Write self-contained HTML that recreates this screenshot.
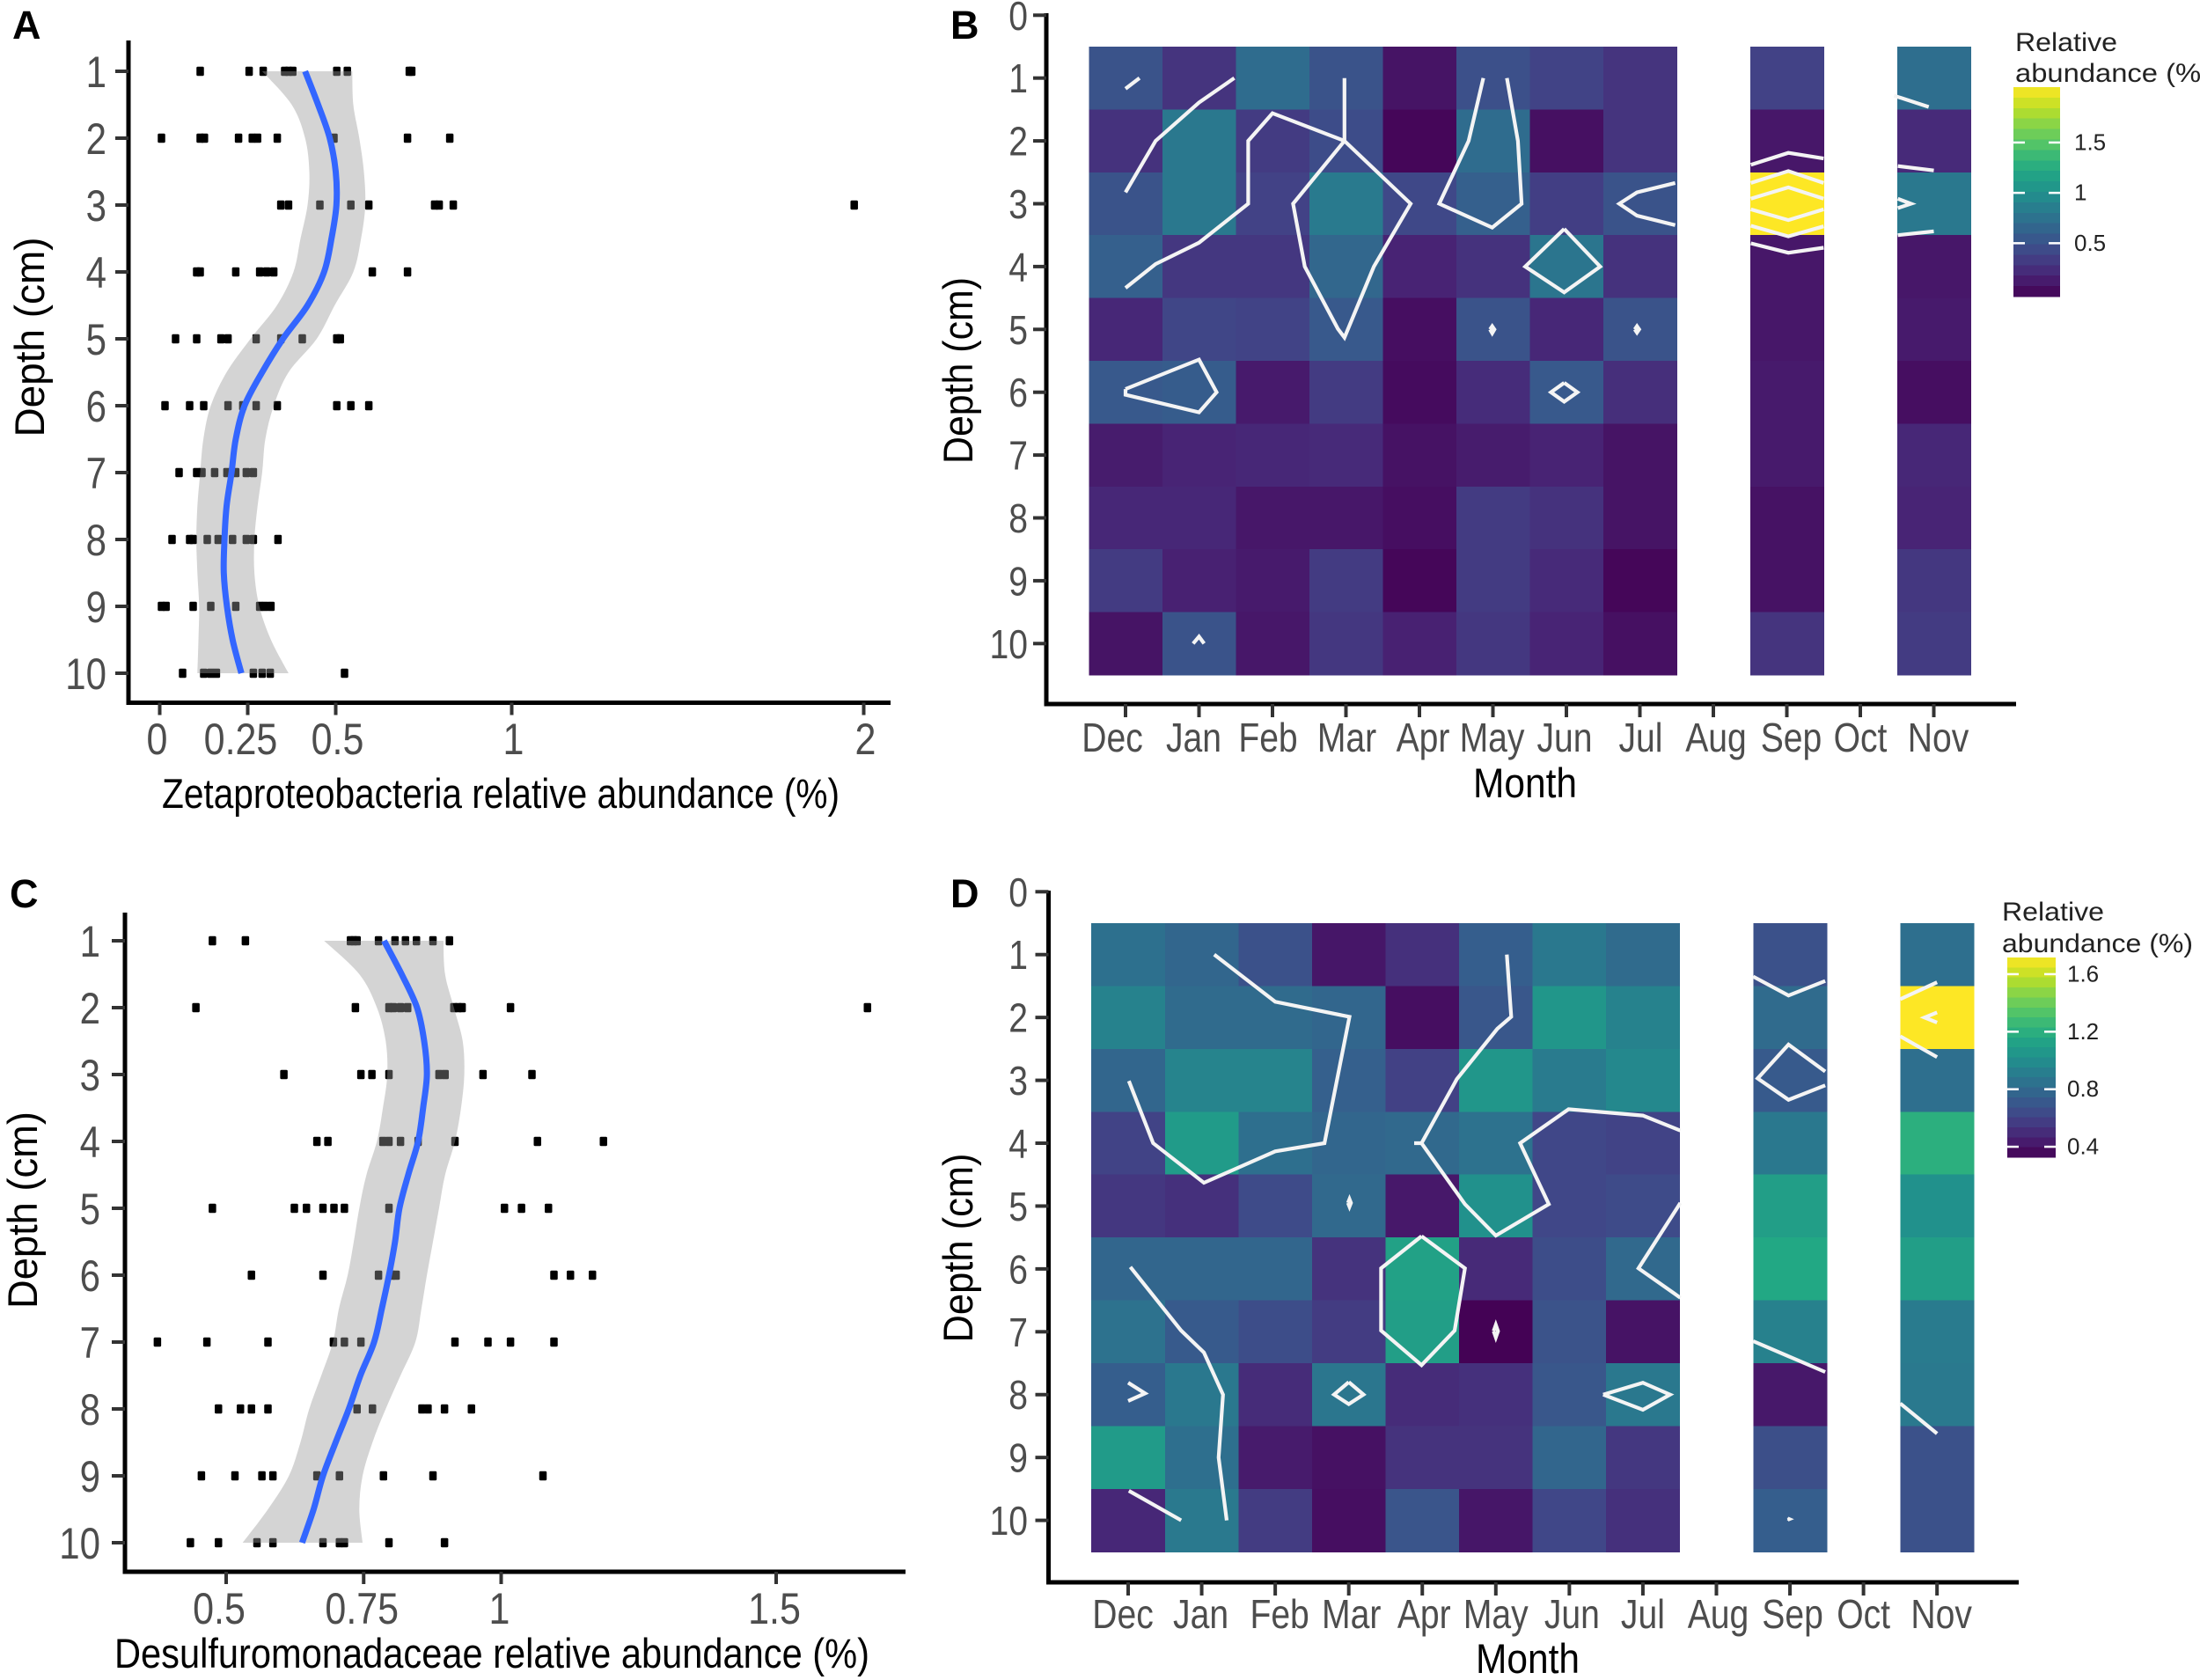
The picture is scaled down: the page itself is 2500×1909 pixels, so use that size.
<!DOCTYPE html>
<html lang="en">
<head>
<meta charset="utf-8">
<title>Depth profiles and monthly heatmaps of relative abundance</title>
<style>
html,body{margin:0;padding:0;background:#fff;}
svg{display:block;font-family:"Liberation Sans",Arial,sans-serif;}
.tick-label{fill:#4d4d4d;}
.title{fill:#000;}
</style>
</head>
<body>
<svg id="figure" xmlns="http://www.w3.org/2000/svg" width="2500" height="1909" viewBox="0 0 2500 1909">
  <rect width="2500" height="1909" fill="#fff"/>
  <text x="14" y="44" font-size="45" font-weight="bold">A</text>
  <text x="1080" y="44" font-size="45" font-weight="bold">B</text>
  <text x="11" y="1031" font-size="45" font-weight="bold">C</text>
  <text x="1080" y="1031" font-size="45" font-weight="bold">D</text>

  <g id="panel-a"></g>
  <g id="panel-b"></g>
  <g id="panel-c"></g>
  <g id="panel-d"></g>

  <text class="title" x="569" y="918" font-size="47" text-anchor="middle" textLength="770" lengthAdjust="spacingAndGlyphs">Zetaproteobacteria relative abundance (%)</text>
  <text class="title" transform="translate(50,383) rotate(-90)" font-size="47" text-anchor="middle" textLength="227" lengthAdjust="spacingAndGlyphs">Depth (cm)</text>
  <text class="title" x="559" y="1895" font-size="47" text-anchor="middle" textLength="858" lengthAdjust="spacingAndGlyphs">Desulfuromonadaceae relative abundance (%)</text>
  <text class="title" transform="translate(42,1375) rotate(-90)" font-size="47" text-anchor="middle" textLength="224" lengthAdjust="spacingAndGlyphs">Depth (cm)</text>
  <text class="title" x="1733" y="906" font-size="47" text-anchor="middle" textLength="118" lengthAdjust="spacingAndGlyphs">Month</text>
  <text class="title" transform="translate(1105,421) rotate(-90)" font-size="47" text-anchor="middle" textLength="212" lengthAdjust="spacingAndGlyphs">Depth (cm)</text>
  <text class="title" x="1736" y="1901" font-size="47" text-anchor="middle" textLength="118" lengthAdjust="spacingAndGlyphs">Month</text>
  <text class="title" transform="translate(1105,1418) rotate(-90)" font-size="47" text-anchor="middle" textLength="215" lengthAdjust="spacingAndGlyphs">Depth (cm)</text>

  <text x="2290" y="58" font-size="30" fill="#222" textLength="116" lengthAdjust="spacingAndGlyphs">Relative</text>
  <text x="2290" y="93" font-size="30" fill="#222" textLength="222" lengthAdjust="spacingAndGlyphs">abundance (%)</text>
  <text x="2275" y="1046" font-size="30" fill="#222" textLength="116" lengthAdjust="spacingAndGlyphs">Relative</text>
  <text x="2275" y="1082" font-size="30" fill="#222" textLength="217" lengthAdjust="spacingAndGlyphs">abundance (%)</text>
</svg>

<script>
/* ---------- Shared categories ---------- */
const depthTicks = [1,2,3,4,5,6,7,8,9,10];
const heatDepthTicks = [0,1,2,3,4,5,6,7,8,9,10];
const months = ['Dec','Jan','Feb','Mar','Apr','May','Jun','Jul','Aug','Sep','Oct','Nov'];
const viridisStops = ['#440154','#482475','#414487','#355f8d','#2a788e','#21918c','#22a884','#44bf70','#7ad151','#bddf26','#fde725'];

/* ---------- Panel A data: points per depth ---------- */
const aPoints = [
 [0.115,0.254,0.294,0.355,0.366,0.378,0.503,0.533,0.709,0.716],
 [0.005,0.115,0.127,0.224,0.263,0.278,0.334,0.495,0.704,0.824],
 [0.344,0.366,0.455,0.543,0.594,0.781,0.794,0.834,1.973],
 [0.105,0.115,0.216,0.284,0.304,0.324,0.604,0.704],
 [0.045,0.105,0.174,0.194,0.274,0.344,0.405,0.503,0.513],
 [0.015,0.085,0.125,0.194,0.236,0.274,0.334,0.503,0.543,0.594],
 [0.055,0.105,0.12,0.156,0.191,0.216,0.246,0.266],
 [0.035,0.085,0.095,0.135,0.166,0.207,0.246,0.266,0.336],
 [0.005,0.018,0.095,0.145,0.216,0.284,0.299,0.316],
 [0.065,0.125,0.145,0.161,0.266,0.291,0.314,0.525]
];
const smoothDepths = [1,1.5,2,2.5,3,3.5,4,4.5,5,5.5,6,6.5,7,7.5,8,8.5,9,9.5,10];
const aSmooth = [0.413,0.45,0.483,0.5,0.502,0.488,0.467,0.42,0.35,0.291,0.241,0.216,0.204,0.19,0.184,0.182,0.191,0.207,0.232];
const aLower  = [0.291,0.375,0.413,0.425,0.42,0.40,0.38,0.333,0.258,0.19,0.145,0.124,0.115,0.107,0.104,0.107,0.112,0.11,0.107];
const aUpper  = [0.547,0.55,0.567,0.58,0.584,0.572,0.55,0.497,0.446,0.366,0.324,0.3,0.291,0.278,0.269,0.269,0.283,0.316,0.366];
const aXTicks = [0,0.25,0.5,1,2];

/* ---------- Panel C data ---------- */
const cPoints = [
 [0.475,0.535,0.726,0.732,0.738,0.777,0.807,0.826,0.846,0.876,0.906],
 [0.445,0.735,0.796,0.804,0.817,0.83,0.914,0.922,0.929,1.017,1.666],
 [0.605,0.745,0.765,0.796,0.887,0.898,0.967,1.056],
 [0.665,0.685,0.785,0.796,0.817,0.849,0.916,1.066,1.186],
 [0.475,0.624,0.646,0.676,0.696,0.715,0.796,1.006,1.037,1.086],
 [0.546,0.676,0.777,0.801,0.809,1.096,1.126,1.166],
 [0.375,0.465,0.576,0.695,0.715,0.745,0.916,0.976,1.017,1.096],
 [0.486,0.526,0.546,0.576,0.738,0.766,0.856,0.867,0.897,0.946],
 [0.455,0.516,0.565,0.585,0.665,0.706,0.786,0.876,1.076],
 [0.435,0.486,0.556,0.585,0.676,0.706,0.715,0.796,0.897]
];
const cSmooth = [0.787,0.819,0.847,0.86,0.865,0.858,0.849,0.831,0.815,0.807,0.796,0.783,0.769,0.744,0.723,0.699,0.676,0.659,0.638];
const cLower  = [0.678,0.742,0.774,0.79,0.793,0.785,0.774,0.755,0.742,0.732,0.721,0.705,0.694,0.673,0.651,0.635,0.614,0.576,0.53];
const cUpper  = [0.895,0.898,0.914,0.93,0.933,0.927,0.916,0.898,0.887,0.876,0.865,0.855,0.844,0.817,0.79,0.766,0.748,0.742,0.748];
const cXTicks = [0.5,0.75,1,1.5];

/* ---------- Panel B data: rows = depth 1..10, cols = months ---------- */
const bCells = [
 [0.50,0.28,0.70,0.50,0.08,0.48,0.38,0.28,null,0.37,null,0.72],
 [0.27,0.80,0.33,0.45,0.00,0.70,0.06,0.28,null,0.10,null,0.22],
 [0.50,0.80,0.37,0.82,0.42,0.60,0.35,0.50,null,2.05,null,0.80],
 [0.60,0.30,0.30,0.66,0.17,0.27,0.78,0.27,null,0.10,null,0.10],
 [0.20,0.40,0.38,0.55,0.05,0.50,0.20,0.50,null,0.10,null,0.12],
 [0.55,0.57,0.12,0.33,0.03,0.23,0.55,0.25,null,0.12,null,0.05],
 [0.13,0.18,0.20,0.22,0.07,0.13,0.17,0.08,null,0.12,null,0.20],
 [0.20,0.20,0.10,0.10,0.05,0.33,0.27,0.08,null,0.07,null,0.18],
 [0.33,0.16,0.12,0.33,0.00,0.33,0.22,0.00,null,0.07,null,0.30],
 [0.08,0.50,0.10,0.30,0.16,0.30,0.18,0.06,null,0.28,null,0.33]
];
const bLegendTicks = [0.5,1,1.5];
/* contour polylines in data units: m = month index, d = depth */
const bContours = [
 {m:[0,0.19],d:[1.17,1.0]},
 {m:[0,0.41,1,1.48],d:[2.82,2,1.39,1]},
 {m:[0,0.41,1,1.67,1.67,2,2.98,2.98],d:[4.34,3.96,3.62,3,2,1.56,2,1]},
 {m:[2.98,2.28,2.44,2.89,2.98,3.38,3.88,2.98],d:[2,3,4,4.99,5.13,4,3,2]},
 {m:[4.87,4.67,4.27,4.99,5.39,5.34,5.19],d:[1,2,3,3.38,3,2,1]},
 {m:[7.48,6.96,6.72,6.96,7.48],d:[2.67,2.82,3,3.19,3.34]},
 {m:[5.97,6.46,5.97,5.44,5.97],d:[3.4,4,4.41,4,3.4]},
 {m:[4.96,4.99,5.02,4.99,4.96],d:[5,4.95,5,5.06,5]},
 {m:[6.93,6.96,6.99,6.96,6.93],d:[5,4.95,5,5.05,5]},
 {m:[0,1,1.24,1,0,0],d:[5.95,5.48,6,6.32,6.04,5.95]},
 {m:[5.97,6.15,5.97,5.79,5.97],d:[5.85,6,6.15,6,5.85]},
 {m:[0.92,1,1.07],d:[10,9.89,10]},
 {m:[8.51,9.02,9.5],d:[2.38,2.19,2.28]},
 {m:[8.51,9.02,9.5],d:[2.67,2.48,2.67]},
 {m:[8.51,9.02,9.5],d:[2.92,2.74,2.92]},
 {m:[8.51,9.02,9.5],d:[3.09,3.26,3.09]},
 {m:[8.51,9.02,9.5],d:[3.35,3.52,3.36]},
 {m:[8.51,9.02,9.5],d:[3.63,3.78,3.7]},
 {m:[10.46,10.93],d:[1.28,1.46]},
 {m:[10.51,11],d:[2.4,2.47]},
 {m:[10.51,10.69,10.51],d:[2.92,3,3.07]},
 {m:[10.51,11],d:[3.5,3.44]}
];

/* ---------- Panel D data ---------- */
const dCells = [
 [0.84,0.785,0.67,0.41,0.52,0.74,0.88,0.81,null,0.67,null,0.83],
 [0.94,0.81,0.81,0.785,0.38,0.70,1.05,0.94,null,0.81,null,1.716],
 [0.785,0.95,0.95,0.75,0.59,1.05,0.90,0.97,null,0.72,null,0.83],
 [0.60,1.08,0.83,0.78,0.80,0.85,0.62,0.60,null,0.88,null,1.20],
 [0.55,0.52,0.64,0.80,0.42,1.02,0.62,0.64,null,1.10,null,1.02],
 [0.78,0.78,0.78,0.53,1.12,0.49,0.65,0.80,null,1.16,null,1.10],
 [0.85,0.72,0.65,0.57,1.10,0.33,0.68,0.40,null,0.93,null,0.90],
 [0.74,0.88,0.50,0.87,0.50,0.52,0.70,0.88,null,0.42,null,0.89],
 [1.08,0.83,0.43,0.39,0.53,0.53,0.78,0.55,null,0.66,null,0.67],
 [0.48,0.89,0.57,0.38,0.69,0.41,0.62,0.52,null,0.74,null,0.67]
];
const dLegendTicks = [0.4,0.8,1.2,1.6];
const dContours = [
 {m:[1.17,2,3.01,2.67,2,1.03,0.34,0.01],d:[1,1.75,1.99,4,4.13,4.63,4,3.01]},
 {m:[5.15,5.21,5.02,4.47,3.99,3.89],d:[1,1.99,2.18,2.98,4,4]},
 {m:[3.99,4.58,5.0,5.72,5.33,5.99,7.0,7.51],d:[4,4.97,5.47,4.97,4,3.46,3.56,3.8]},
 {m:[3.99,4.58,4.44,3.99,3.44,3.44,3.99],d:[5.48,5.99,6.98,7.53,6.98,5.99,5.48]},
 {m:[2.99,3.01,3.03,3.01,2.99],d:[4.95,4.89,4.95,5.01,4.95]},
 {m:[4.97,5,5.03,5,4.97],d:[6.99,6.89,6.99,7.09,6.99]},
 {m:[7.51,6.94,7.51],d:[4.95,5.99,6.46]},
 {m:[0.03,0.72,1.03,1.29,1.23,1.34],d:[5.97,6.98,7.33,8,9,10]},
 {m:[0.01,0.72],d:[9.53,10]},
 {m:[0,0.23,0],d:[7.81,7.98,8.1]},
 {m:[3,3.2,3,2.8,3],d:[7.8,8,8.15,8,7.8]},
 {m:[6.46,7,7.37,7,6.46],d:[8,7.81,8,8.24,8]},
 {m:[8.5,8.98,9.48],d:[1.35,1.65,1.42]},
 {m:[9.48,8.98,8.56,8.98,9.48],d:[2.86,2.43,2.97,3.31,3.08]},
 {m:[8.5,8.98,9.48],d:[7.15,7.39,7.64]},
 {m:[8.97,8.99,8.97],d:[9.97,9.98,9.99]},
 {m:[10.5,11],d:[1.71,1.44]},
 {m:[10.5,11],d:[2.3,2.63]},
 {m:[11,10.83,11],d:[1.92,2,2.08]},
 {m:[10.5,11],d:[8.14,8.62]}
];

/* ---------- Helpers ---------- */
const NS = 'http://www.w3.org/2000/svg';
function make(tag, attrs, parent){
  const el = document.createElementNS(NS, tag);
  for (const k in attrs) el.setAttribute(k, attrs[k]);
  parent.appendChild(el);
  return el;
}
function viridis(t){
  t = Math.max(0, Math.min(1, t));
  const p = t * (viridisStops.length - 1);
  const i = Math.min(Math.floor(p), viridisStops.length - 2);
  const f = p - i;
  const a = viridisStops[i], b = viridisStops[i + 1];
  const ch = s => [1,3,5].map(o => parseInt(s.substr(o, 2), 16));
  const ca = ch(a), cb = ch(b);
  return 'rgb(' + ca.map((v, n) => Math.round(v + (cb[n] - v) * f)).join(',') + ')';
}
/* Catmull-Rom curve through screen points; "start" is the leading path command */
function curve(pts, start){
  let s = start + pts[0][0].toFixed(1) + ' ' + pts[0][1].toFixed(1);
  for (let i = 0; i < pts.length - 1; i++) {
    const p0 = pts[Math.max(0, i - 1)], p1 = pts[i], p2 = pts[i + 1], p3 = pts[Math.min(pts.length - 1, i + 2)];
    s += 'C' + (p1[0] + (p2[0] - p0[0]) / 6).toFixed(1) + ' ' + (p1[1] + (p2[1] - p0[1]) / 6).toFixed(1) +
         ' ' + (p2[0] - (p3[0] - p1[0]) / 6).toFixed(1) + ' ' + (p2[1] - (p3[1] - p1[1]) / 6).toFixed(1) +
         ' ' + p2[0].toFixed(1) + ' ' + p2[1].toFixed(1);
  }
  return s;
}
function drawAxes(g, o){
  const yAxis = make('line', {x1:o.axisX, x2:o.axisX, y1:o.axisTop, y2:o.axisY + 2.5, stroke:'#000', 'stroke-width':5}, g);
  
  
  const xAxis = make('line', {x1:o.axisX - 2.5, x2:o.axisRight, y1:o.axisY, y2:o.axisY, stroke:'#000', 'stroke-width':5}, g);
  
  
}
function drawYTicks(g, ticks, yScale, axisX, labelRight, fontSize, squeeze){
  ticks.forEach(function(t){
    const tick = make('line', {x1:axisX - 15, x2:axisX, y1:yScale(t), y2:yScale(t), stroke:'#333', 'stroke-width':4}, g);
    
    
    const label = make('text', {transform:'translate(' + labelRight + ' ' + (yScale(t) + fontSize * 0.358) + ') scale(' + squeeze + ' 1)', 'font-size':fontSize, 'text-anchor':'end', class:'tick-label'}, g);
    label.textContent = String(t);
    
    
  });
}

/* ---------- Depth profile panel ---------- */
function drawProfile(id, c){
  const g = document.getElementById(id);
  const x = v => c.x0 + (v - c.v0) * c.pxPerUnit;
  const y = d => c.y1 + (d - 1) * c.yStep;

  drawAxes(g, c);
  drawYTicks(g, depthTicks, y, c.axisX, c.labelRight, 50, 0.84);

  c.xTicks.forEach(function(t){
    const tick = make('line', {x1:x(t), x2:x(t), y1:c.axisY, y2:c.axisY + 14, stroke:'#333', 'stroke-width':4}, g);
    
    
    const label = make('text', {transform:'translate(' + (x(t) + c.labelShift(t)) + ' ' + c.xLabelY + ') scale(0.86 1)', 'font-size':50, 'text-anchor':'middle', class:'tick-label'}, g);
    label.textContent = String(t);
    
    
  });

  c.points.forEach(function(row, i){
    row.forEach(function(v){
      const pt = make('rect', {x:x(v) - 4.25, y:y(depthTicks[i]) - 5.25, width:8.5, height:10.5, rx:1.5, fill:'#000'}, g);
      
      
    });
  });

  const upperPts = smoothDepths.map((d, i) => [x(c.upper[i]), y(d)]);
  const lowerPts = smoothDepths.map((d, i) => [x(c.lower[i]), y(d)]).reverse();
  const ribbon = make('path', {d:curve(upperPts, 'M') + curve(lowerPts, 'L') + 'Z', fill:'#999', 'fill-opacity':0.42}, g);
  
  

  const linePts = smoothDepths.map((d, i) => [x(c.smooth[i]), y(d)]);
  const line = make('path', {d:curve(linePts, 'M'), fill:'none', stroke:'#3366ff', 'stroke-width':7}, g);
  
  
}

/* ---------- Heatmap panel ---------- */
function drawHeatmap(id, c){
  const g = document.getElementById(id);
  const x = m => c.monthX0 + m * c.monthStep;
  const y = d => c.depth0 + d * c.rowH;
  const colour = v => viridis((v - c.domain[0]) / (c.domain[1] - c.domain[0]));

  c.cells.forEach(function(row, r){
    row.forEach(function(v, m){
      if (v === null) return;
      const cell = make('rect', {x:x(m) - c.monthStep / 2, y:y(r + 0.5), width:c.monthStep + 0.5, height:c.rowH + 0.5, fill:colour(v), 'shape-rendering':'crispEdges'}, g);
      
      
    });
  });

  c.contours.forEach(function(ln){
    const pts = ln.m.map((m, i) => x(m).toFixed(1) + ',' + y(ln.d[i]).toFixed(1)).join(' ');
    const contour = make('polyline', {points:pts, fill:'none', stroke:'#f4f4f4', 'stroke-width':4.2, 'stroke-linejoin':'miter'}, g);
    
    
  });

  drawAxes(g, c);
  drawYTicks(g, heatDepthTicks, y, c.axisX, c.labelRight, 46, 0.85);

  months.forEach(function(name, m){
    const tick = make('line', {x1:x(m), x2:x(m), y1:c.axisY, y2:c.axisY + 15, stroke:'#333', 'stroke-width':4}, g);
    
    
    const label = make('text', {transform:'translate(' + (x(m) + c.labelNudge[m]) + ' ' + c.xLabelY + ') scale(0.85 1)', 'font-size':46, 'text-anchor':'middle', class:'tick-label'}, g);
    label.textContent = name;
    
    
  });

  /* legend colour bar */
  const bins = 20;
  const binH = (c.legend.bottom - c.legend.top) / bins;
  for (let i = 0; i < bins; i++) {
    const v = c.domain[1] - (i + 0.5) / bins * (c.domain[1] - c.domain[0]);
    const bin = make('rect', {x:c.legend.x, y:c.legend.top + i * binH, width:c.legend.w, height:binH + 0.5, fill:colour(v), 'shape-rendering':'crispEdges'}, g);
    
    
  }
  const ly = v => c.legend.bottom - (v - c.domain[0]) / (c.domain[1] - c.domain[0]) * (c.legend.bottom - c.legend.top);
  c.legendTicks.forEach(function(t){
    const left = make('line', {x1:c.legend.x, x2:c.legend.x + 13, y1:ly(t), y2:ly(t), stroke:'#fff', 'stroke-width':2.5}, g);
    
    
    const right = make('line', {x1:c.legend.x + c.legend.w - 13, x2:c.legend.x + c.legend.w, y1:ly(t), y2:ly(t), stroke:'#fff', 'stroke-width':2.5}, g);
    
    
    const label = make('text', {x:c.legend.labelX, y:ly(t) + 8.5, 'font-size':26, fill:'#222'}, g);
    label.textContent = String(t);
    
    
  });
}

/* ---------- Render ---------- */
drawProfile('panel-a', {
  points:aPoints, smooth:aSmooth, lower:aLower, upper:aUpper, xTicks:aXTicks,
  x0:181.5, v0:0, pxPerUnit:400, y1:81, yStep:76,
  axisX:146, axisTop:46, axisY:798.5, axisRight:1012, labelRight:121, xLabelY:857,
  labelShift:t => t === 0.25 ? -8 : (t === 0 ? -3 : 2)
});
drawProfile('panel-c', {
  points:cPoints, smooth:cSmooth, lower:cLower, upper:cUpper, xTicks:cXTicks,
  x0:257, v0:0.5, pxPerUnit:625, y1:1069, yStep:76,
  axisX:142, axisTop:1037, axisY:1786, axisRight:1029, labelRight:114, xLabelY:1845,
  labelShift:t => t === 0.5 ? -8 : -2
});
drawHeatmap('panel-b', {
  cells:bCells, contours:bContours, legendTicks:bLegendTicks, domain:[-0.03,2.05],
  monthX0:1279, monthStep:83.5, depth0:17.3, rowH:71.4,
  axisX:1189, axisTop:15, axisY:800, axisRight:2291, labelRight:1168,
  labelNudge:[-15,-6,-5,1,4,-1,-2,1,3,5,0,5], xLabelY:854,
  legend:{x:2288, w:53, top:99, bottom:337, labelX:2357}
});
drawHeatmap('panel-d', {
  cells:dCells, contours:dContours, legendTicks:dLegendTicks, domain:[0.327,1.716],
  monthX0:1282, monthStep:83.56, depth0:1013.3, rowH:71.43,
  axisX:1191.5, axisTop:1012, axisY:1798, axisRight:2294, labelRight:1168,
  labelNudge:[-6,-1,5,3,2,0,3,0,2,3,0,5], xLabelY:1850,
  legend:{x:2281, w:55, top:1088, bottom:1315, labelX:2349}
});
</script>
</body>
</html>
